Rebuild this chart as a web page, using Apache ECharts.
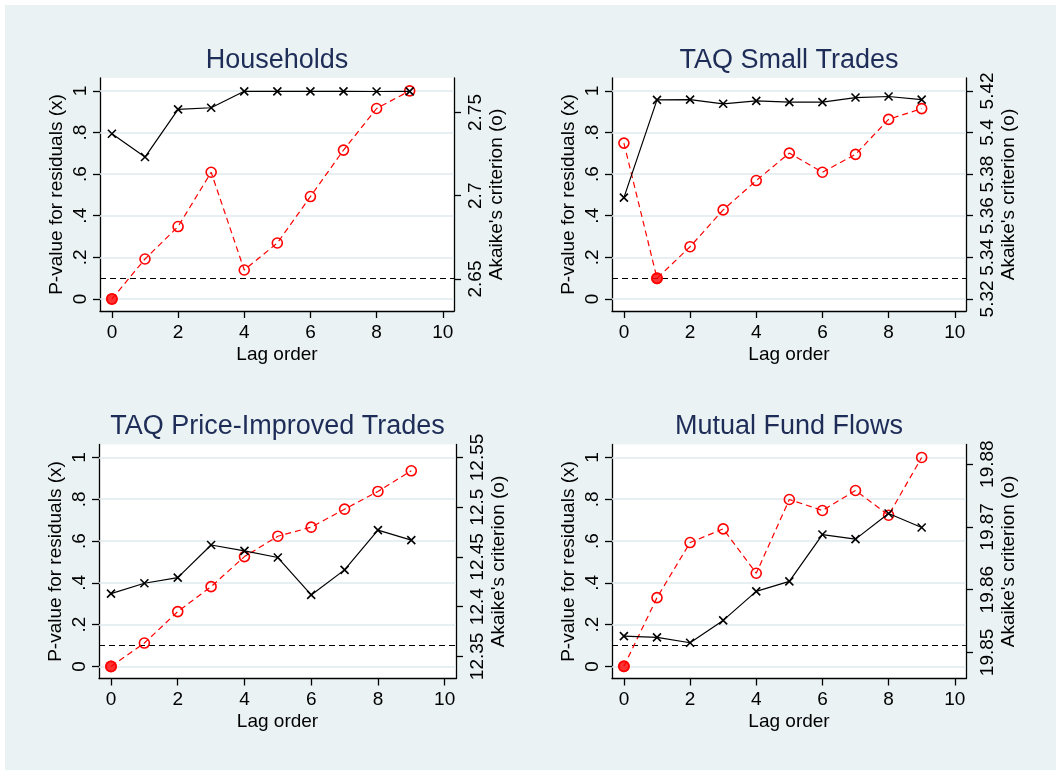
<!DOCTYPE html>
<html>
<head>
<meta charset="utf-8">
<script src="https://cdn.jsdelivr.net/npm/echarts@6/dist/echarts.min.js"></script>
<style>
  html, body { margin: 0; padding: 0; background: #fff; }
  #chart { width: 1056px; height: 770px; }
</style>
</head>
<body>
<div id="chart"></div>
<script>
// Lag orders shared by all four panels
const lags = [0, 1, 2, 3, 4, 5, 6, 7, 8, 9];

// Panel titles
const titles = ['Households', 'TAQ Small Trades', 'TAQ Price-Improved Trades', 'Mutual Fund Flows'];

// P-value for residuals (x), one array per panel
const pvalHouseholds = [0.794, 0.682, 0.911, 0.919, 0.998, 0.998, 0.998, 0.998, 0.997, 0.998];
const pvalSmall      = [0.487, 0.957, 0.958, 0.938, 0.952, 0.946, 0.946, 0.968, 0.973, 0.958];
const pvalPriceImp   = [0.348, 0.398, 0.425, 0.581, 0.553, 0.521, 0.342, 0.462, 0.652, 0.604];
const pvalFundFlows  = [0.145, 0.139, 0.113, 0.220, 0.359, 0.407, 0.631, 0.609, 0.732, 0.665];

// Akaike's criterion (o), one array per panel
const aicHouseholds = [2.6380, 2.6620, 2.6815, 2.7141, 2.6554, 2.6716, 2.6995, 2.7274, 2.7524, 2.7630];
const aicSmall      = [5.3949, 5.3299, 5.3451, 5.3628, 5.3769, 5.3901, 5.3809, 5.3895, 5.4063, 5.4115];
const aicPriceImp   = [12.3399, 12.3634, 12.3950, 12.4201, 12.4503, 12.4708, 12.4799, 12.4980, 12.5158, 12.5366];
const aicFundFlows  = [19.84777, 19.85872, 19.86750, 19.86968, 19.86261, 19.87436, 19.87261, 19.87580, 19.87186, 19.88106];

// Tick values and labels
const xTicks = [0, 2, 4, 6, 8, 10];
const pTicks = [0, 0.2, 0.4, 0.6, 0.8, 1];
const pTickLabels = ['0', '.2', '.4', '.6', '.8', '1'];
const aicTicksHouseholds = [2.65, 2.7, 2.75];
const aicLabelsHouseholds = ['2.65', '2.7', '2.75'];
const aicTicksSmall = [5.32, 5.34, 5.36, 5.38, 5.40, 5.42];
const aicLabelsSmall = ['5.32', '5.34', '5.36', '5.38', '5.4', '5.42'];
const aicTicksPriceImp = [12.35, 12.4, 12.45, 12.5, 12.55];
const aicLabelsPriceImp = ['12.35', '12.4', '12.45', '12.5', '12.55'];
const aicTicksFundFlows = [19.85, 19.86, 19.87, 19.88];
const aicLabelsFundFlows = ['19.85', '19.86', '19.87', '19.88'];

// Significance reference level
const refLevel = 0.1;

const panels = [
  { title: titles[0], pval: pvalHouseholds, aic: aicHouseholds, aTicks: aicTicksHouseholds, aLabels: aicLabelsHouseholds,
    aMin: 2.63077, aMax: 2.77072, box: { left: 100, top: 78, width: 354, height: 233 } },
  { title: titles[1], pval: pvalSmall, aic: aicSmall, aTicks: aicTicksSmall, aLabels: aicLabelsSmall,
    aMin: 5.3142, aMax: 5.4262, box: { left: 612, top: 78, width: 354, height: 233 } },
  { title: titles[2], pval: pvalPriceImp, aic: aicPriceImp, aTicks: aicTicksPriceImp, aLabels: aicLabelsPriceImp,
    aMin: 12.32775, aMax: 12.56302, box: { left: 99, top: 444.5, width: 357, height: 234 } },
  { title: titles[3], pval: pvalFundFlows, aic: aicFundFlows, aTicks: aicTicksFundFlows, aLabels: aicLabelsFundFlows,
    aMin: 19.845835, aMax: 19.883128, box: { left: 612, top: 444.5, width: 354, height: 234 } }
];

const FONT = "'Liberation Sans', Arial, Helvetica, sans-serif";
const BLACK = '#000000';
const RED = '#ff0000';
const GRID_COLOR = '#e1eaee';

function labelFor(values, labels) {
  return function (v) {
    for (let i = 0; i < values.length; i++) {
      if (Math.abs(values[i] - v) < 1e-7) return labels[i];
    }
    return '';
  };
}

const axisLineStyle = { show: true, onZero: false, lineStyle: { color: BLACK, width: 1.3 } };
const tickStyle = { color: BLACK, width: 1.3 };
const labelText = { color: BLACK, fontSize: 19, fontFamily: FONT };
const nameText = { color: BLACK, fontSize: 19, fontFamily: FONT };

const option = {
  animation: false,
  backgroundColor: '#eaf2f3',
  graphic: [
    { type: 'rect', shape: { x: 0, y: 0, width: 1056, height: 5 }, style: { fill: '#ffffff' }, silent: true },
    { type: 'rect', shape: { x: 0, y: 0, width: 5, height: 770 }, style: { fill: '#ffffff' }, silent: true }
  ],
  title: [],
  grid: [],
  xAxis: [],
  yAxis: [],
  series: []
};

panels.forEach(function (p, i) {
  const b = p.box;
  option.grid.push({
    left: b.left, top: b.top, width: b.width, height: b.height,
    show: true, backgroundColor: '#ffffff', borderWidth: 0, containLabel: false
  });
  option.title.push({
    text: p.title,
    left: b.left + b.width / 2,
    top: b.top - 31,
    textAlign: 'center',
    padding: 0,
    textStyle: { fontSize: 27, fontWeight: 'normal', color: '#1e2c58', fontFamily: FONT }
  });
  option.xAxis.push({
    type: 'value', gridIndex: i, min: -0.36, max: 10.34,
    name: 'Lag order', nameLocation: 'middle', nameGap: 34, nameTextStyle: nameText,
    axisLine: axisLineStyle,
    axisTick: { show: true, length: 7, lineStyle: tickStyle, customValues: xTicks },
    axisLabel: Object.assign({ margin: 12, customValues: xTicks }, labelText),
    splitLine: { show: false }
  });
  option.yAxis.push({
    type: 'value', gridIndex: i, position: 'left', min: -0.058, max: 1.062,
    name: 'P-value for residuals (x)', nameLocation: 'middle', nameRotate: 90, nameGap: 34,
    nameTextStyle: nameText,
    axisLine: axisLineStyle,
    axisTick: { show: true, length: 7, lineStyle: tickStyle, customValues: pTicks },
    axisLabel: Object.assign({ margin: 10, rotate: 90, customValues: pTicks,
      formatter: labelFor(pTicks, pTickLabels) }, labelText),
    splitLine: { show: false }
  });
  option.yAxis.push({
    type: 'value', gridIndex: i, position: 'right', min: p.aMin, max: p.aMax,
    name: "Akaike's criterion (o)", nameLocation: 'middle', nameRotate: 90, nameGap: 33,
    nameTextStyle: nameText,
    axisLine: axisLineStyle,
    axisTick: { show: true, length: 7, lineStyle: tickStyle, customValues: p.aTicks },
    axisLabel: Object.assign({ margin: 12, rotate: 90, customValues: p.aTicks,
      formatter: labelFor(p.aTicks, p.aLabels) }, labelText),
    splitLine: { show: false }
  });

  // light horizontal grid lines at the p-value ticks plus the dashed 0.1 reference line
  const gridLines = pTicks.map(function (v) {
    return { yAxis: v, lineStyle: { color: GRID_COLOR, width: 1.6, type: 'solid' } };
  });
  gridLines.push({ yAxis: refLevel, lineStyle: { color: BLACK, width: 1, type: [6, 4] } });
  option.series.push({
    type: 'line', xAxisIndex: i, yAxisIndex: 2 * i, data: [], z: 1, silent: true,
    markLine: { z: 1, silent: true, symbol: ['none', 'none'], label: { show: false }, animation: false, data: gridLines }
  });

  // Akaike's criterion: red dashed line with hollow circles
  option.series.push({
    type: 'line', xAxisIndex: i, yAxisIndex: 2 * i + 1, z: 3,
    data: lags.map(function (l, j) { return [l, p.aic[j]]; }),
    symbol: 'circle', symbolSize: 10, showAllSymbol: true,
    lineStyle: { color: RED, width: 1.2, type: [6, 4] },
    itemStyle: { color: 'rgba(255,0,0,0)', borderColor: RED, borderWidth: 1.6 }
  });

  // filled dot at the lag with the smallest criterion
  let minIdx = 0;
  p.aic.forEach(function (v, j) { if (v < p.aic[minIdx]) minIdx = j; });
  option.series.push({
    type: 'scatter', xAxisIndex: i, yAxisIndex: 2 * i + 1, z: 4,
    data: [[lags[minIdx], p.aic[minIdx]]],
    symbol: 'circle', symbolSize: 12,
    itemStyle: { color: RED }
  });

  // p-values: solid black line with x markers
  option.series.push({
    type: 'line', xAxisIndex: i, yAxisIndex: 2 * i, z: 5,
    data: lags.map(function (l, j) { return [l, p.pval[j]]; }),
    symbol: 'path://M0,0L10,10M0,10L10,0', symbolSize: 8, showAllSymbol: true,
    lineStyle: { color: BLACK, width: 1.2 },
    itemStyle: { color: BLACK, borderColor: BLACK, borderWidth: 1.6 }
  });
});

const chart = echarts.init(document.getElementById('chart'), null, { renderer: 'canvas' });
chart.setOption(option);
</script>
</body>
</html>
